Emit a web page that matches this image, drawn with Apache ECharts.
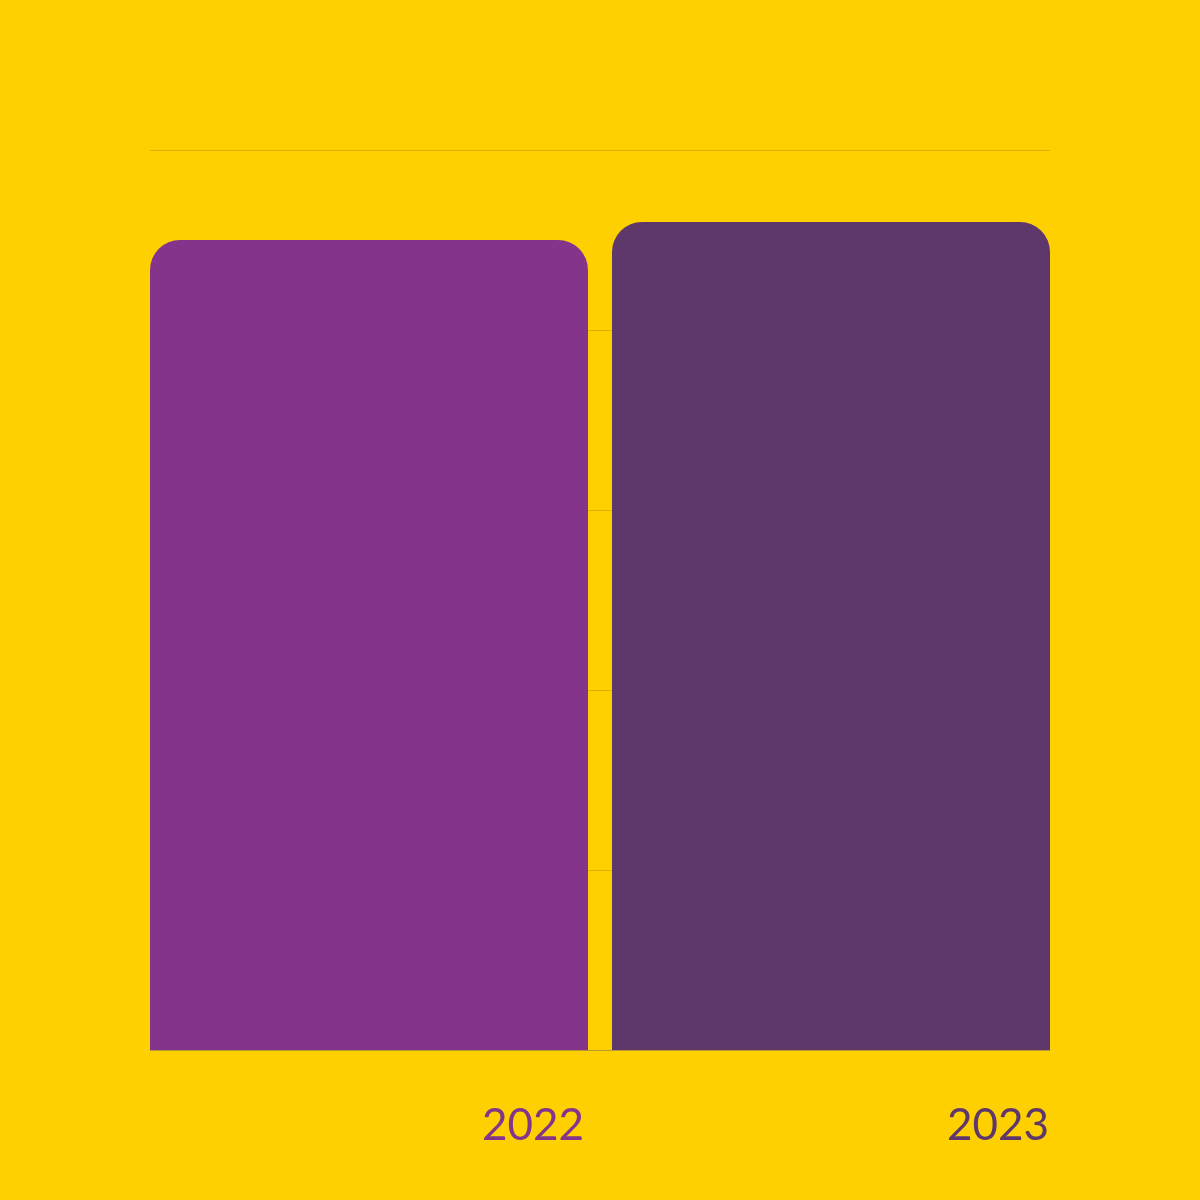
<!DOCTYPE html>
<html><head><meta charset="utf-8">
<script src="https://cdn.jsdelivr.net/npm/echarts@6/dist/echarts.min.js"></script>
<style>html,body{margin:0;padding:0;background:#FFD000;}#c{width:1200px;height:1200px;}</style>
</head><body><div id="c"></div>
<script>
const categories = ['2022', '2023'];
const values = [90, 92];
const barColors = ['#84348A', '#5F386B'];
const yMin = 0, yMax = 100, yInterval = 20;

const chart = echarts.init(document.getElementById('c'));
const labelOffsets = [[-4, 76], [-1, 76]];
const series = categories.map((c, i) => ({
  type: 'bar',
  name: c,
  data: categories.map((cc, j) => j === i ? values[j] : null),
  barWidth: 438,
  barGap: '-97.26%',
  itemStyle: { color: barColors[i], borderRadius: [30, 30, 0, 0] },
  label: {
    show: true,
    position: ['100%', '100%'],
    align: 'right',
    verticalAlign: 'middle',
    offset: labelOffsets[i],
    formatter: p => p.name,
    color: barColors[i],
    fontFamily: 'Lato',
    fontSize: 44
  }
}));
chart.setOption({
  backgroundColor: '#FFD000',
  animation: false,
  grid: { left: 150, right: 150, top: 150, bottom: 150 },
  xAxis: {
    type: 'category', data: categories, boundaryGap: true,
    axisLine: { show: true, lineStyle: { color: '#B89A30', width: 1 } },
    axisTick: { show: false }, axisLabel: { show: false }
  },
  yAxis: {
    type: 'value', min: yMin, max: yMax, interval: yInterval,
    axisLine: { show: false }, axisTick: { show: false }, axisLabel: { show: false },
    splitLine: { lineStyle: { color: '#D9B000', width: 1 } }
  },
  series: series
});
</script></body></html>
